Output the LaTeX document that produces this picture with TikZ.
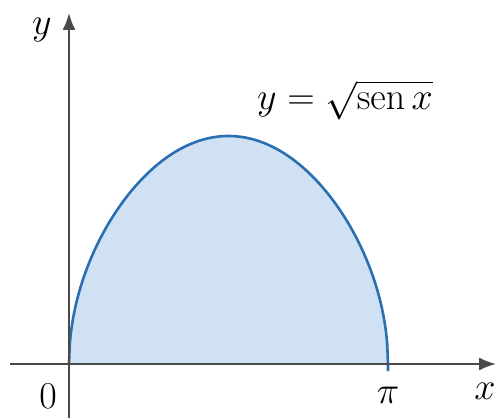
\RequirePackage{fix-cm}
\documentclass[tikz,border=0pt]{standalone}
\usetikzlibrary{arrows.meta}
\definecolor{curveblue}{HTML}{2B6FB3}
\definecolor{fillblue}{HTML}{D0E1F4}
\definecolor{axisgray}{HTML}{4A4A4A}
\begin{document}
\begin{tikzpicture}[x=1pt,y=1pt,
  axis/.style={draw=axisgray,line width=1.8pt},
  axisarrow/.style={axis,-{Latex[length=17pt,width=13pt]}},
  lbl/.style={font=\fontsize{38}{40}\selectfont,inner sep=0pt},
  curve/.style={draw=curveblue,line width=2.6pt}]
\useasboundingbox (0,0) rectangle (498,418);
\fill[fillblue] (69,54) -- plot[domain=0:180,samples=400,variable=\t] ({69+319*(\t/180)},{54+228*sqrt(abs(sin(\t)))}) -- cycle;
\draw[curve] plot[domain=0:180,samples=400,variable=\t] ({69+319*(\t/180)},{54+228*sqrt(abs(sin(\t)))}) -- (388,47);
\coordinate (xs) at (10,54);
\coordinate (xe) at (496,54);
\coordinate (ys) at (69,0);
\coordinate (ye) at (69,405);
\draw[axisarrow] (xs) -- (xe);
\draw[axisarrow] (ys) -- (ye);
\node[lbl] (ylab) at (42,388) {$y$};
\node[lbl] (xlab) at (485,27) {$x$};
\node[lbl] (zero) at (48,22) {$0$};
\node[lbl] (pi) at (388,23) {$\pi$};
\node[lbl,anchor=base] (eq) at (345,308) {$y = \sqrt{\mathrm{sen}\,x}$};
\end{tikzpicture}
\end{document}
